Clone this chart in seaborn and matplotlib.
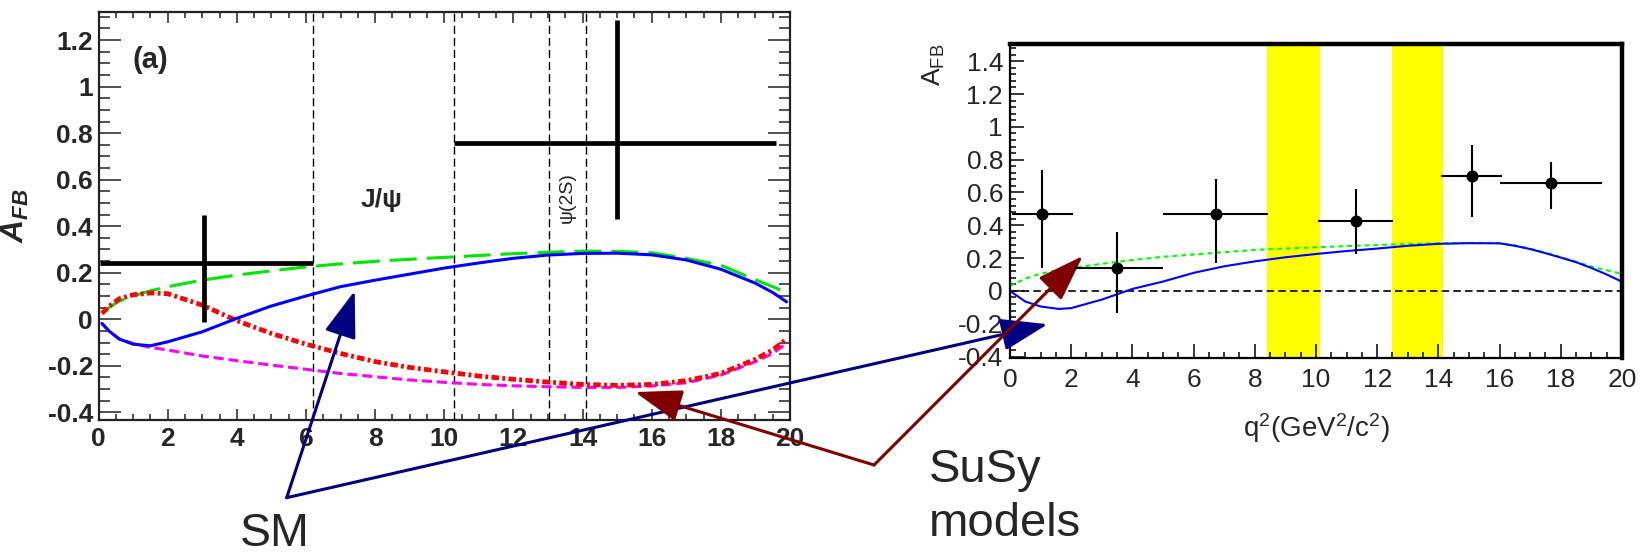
import matplotlib
matplotlib.use('Agg')
import matplotlib.pyplot as plt
from matplotlib.ticker import MultipleLocator, FuncFormatter
import seaborn as sns

# ---- left panel (a): theory curves, A_FB vs q^2 ----
q_left = [0.1, 0.3, 0.6, 1, 1.5, 2, 3, 4, 5, 6, 7, 8, 9, 10, 11, 12, 13, 14,
          15, 16, 17, 18, 19, 19.5, 19.9]
sm_left = [-0.018, -0.05, -0.085, -0.107, -0.114, -0.097, -0.054, 0.004, 0.057,
           0.1, 0.14, 0.168, 0.194, 0.22, 0.242, 0.262, 0.276, 0.283, 0.284,
           0.277, 0.255, 0.215, 0.155, 0.115, 0.075]
green_left = [0.025, 0.05, 0.078, 0.1, 0.122, 0.14, 0.168, 0.19, 0.208, 0.225,
              0.238, 0.249, 0.258, 0.266, 0.274, 0.282, 0.288, 0.293, 0.292,
              0.286, 0.262, 0.232, 0.17, 0.14, 0.115]
red_left = [0.025, 0.055, 0.088, 0.105, 0.113, 0.11, 0.061, -0.006, -0.061,
            -0.107, -0.147, -0.182, -0.207, -0.226, -0.244, -0.258, -0.27,
            -0.28, -0.284, -0.28, -0.264, -0.233, -0.172, -0.132, -0.085]
magenta_left = [-0.018, -0.05, -0.085, -0.105, -0.121, -0.132, -0.158, -0.178,
                -0.197, -0.215, -0.233, -0.247, -0.261, -0.271, -0.28, -0.286,
                -0.29, -0.293, -0.293, -0.287, -0.273, -0.24, -0.182, -0.147,
                -0.104]

# measured bins (thick crosses)
cross_q = [3.05, 15.0]
cross_a = [0.240, 0.758]
cross_qlo = [0.05, 10.28]
cross_qhi = [6.21, 19.6]
cross_alo = [-0.011, 0.429]
cross_ahi = [0.448, 1.286]
veto_lines = [6.21, 10.28, 13.02, 14.09]

# ---- right panel: data points and curves ----
q_right = [0, 0.5, 1, 1.6, 2, 3, 4, 5, 6, 7, 8, 9, 10, 11, 12, 13, 14, 15, 16,
           16.5, 17, 17.5, 18, 18.5, 19, 19.5, 20]
sm_right = [0.0, -0.065, -0.095, -0.11, -0.105, -0.053, 0.012, 0.057, 0.11,
            0.15, 0.18, 0.205, 0.225, 0.243, 0.258, 0.275, 0.287, 0.291, 0.29,
            0.275, 0.255, 0.23, 0.203, 0.175, 0.14, 0.1, 0.056]
green_right = [0.03, 0.075, 0.105, 0.127, 0.14, 0.165, 0.188, 0.208, 0.222,
               0.236, 0.25, 0.258, 0.266, 0.273, 0.28, 0.286, 0.29, 0.292,
               0.291, 0.277, 0.257, 0.233, 0.206, 0.179, 0.148, 0.126, 0.104]

pt_q = [1.04, 3.51, 6.73, 11.3, 15.09, 17.67]
pt_a = [0.471, 0.138, 0.471, 0.429, 0.701, 0.66]
pt_qlo = [0.05, 2.1, 5.0, 10.07, 14.1, 16.0]
pt_qhi = [2.05, 5.0, 8.43, 12.52, 16.07, 19.36]
pt_alo = [0.14, -0.136, 0.169, 0.226, 0.453, 0.498]
pt_ahi = [0.734, 0.358, 0.681, 0.62, 0.89, 0.787]
veto_bands = [(8.41, 10.13), (12.49, 14.16)]

sns.set_theme(style='ticks')
plt.rcParams['font.family'] = ['Liberation Sans', 'DejaVu Sans']
plt.rcParams['axes.unicode_minus'] = False
plt.rcParams['mathtext.fontset'] = 'custom'
plt.rcParams['mathtext.rm'] = 'Liberation Sans'
plt.rcParams['mathtext.it'] = 'Liberation Sans:italic:bold'
plt.rcParams['mathtext.bf'] = 'Liberation Sans:bold'

fmt = FuncFormatter(lambda v, p: f'{round(v, 6) + 0:g}')

fig = plt.figure(figsize=(16.42, 5.53), dpi=100)
ax1 = fig.add_axes([0.05999, 0.24051, 0.42113, 0.73834])
ax2 = fig.add_axes([0.61510, 0.35262, 0.37272, 0.56781])

# left panel
for v in veto_lines:
    ax1.axvline(v, color='black', lw=1.0, ls=(0, (5.8, 2.9)), zorder=1)

sns.lineplot(x=q_left, y=green_left, ax=ax1, color='#00e600', lw=2.2,
             linestyle=(0, (8.8, 3.3)))
sns.lineplot(x=q_left, y=magenta_left, ax=ax1, color='#ff00ff', lw=2.2,
             linestyle=(0, (3.3, 1.6)))
sns.lineplot(x=q_left, y=red_left, ax=ax1, color='#ff0000', lw=3.4,
             linestyle=(0, (1.6, 0.7, 0.6, 0.7)))
sns.lineplot(x=q_left, y=sm_left, ax=ax1, color='#0000ff', lw=2.2)

ax1.errorbar(cross_q, cross_a,
             xerr=[[q - lo for q, lo in zip(cross_q, cross_qlo)],
                   [hi - q for q, hi in zip(cross_q, cross_qhi)]],
             yerr=[[a - lo for a, lo in zip(cross_a, cross_alo)],
                   [hi - a for a, hi in zip(cross_a, cross_ahi)]],
             fmt='none', ecolor='black', elinewidth=3.4, capsize=0, zorder=4)

ax1.text(1.51, 1.113, '(a)', fontsize=21, fontweight='bold', ha='center', va='center')
ax1.text(8.19, 0.512, 'J/ψ', fontsize=19, fontweight='bold', ha='center', va='center')
ax1.text(13.56, 0.523, 'ψ(2S)', fontsize=14, rotation=90, color='#222222',
         ha='center', va='center')

ax1.set_xlim(0, 20)
ax1.set_ylim(-0.433, 1.322)
ax1.xaxis.set_major_locator(MultipleLocator(2))
ax1.xaxis.set_minor_locator(MultipleLocator(0.5))
ax1.yaxis.set_major_locator(MultipleLocator(0.2))
ax1.yaxis.set_minor_locator(MultipleLocator(0.05))
ax1.xaxis.set_major_formatter(fmt)
ax1.yaxis.set_major_formatter(fmt)
ax1.tick_params(axis='both', which='both', direction='in', top=True, right=True,
                color='#222222', width=1.1, labelsize=19)
ax1.tick_params(axis='x', which='major', length=8, pad=5)
ax1.tick_params(axis='x', which='minor', length=4)
ax1.tick_params(axis='y', which='major', length=16, pad=4)
ax1.tick_params(axis='y', which='minor', length=8)
for lab in ax1.get_xticklabels() + ax1.get_yticklabels():
    lab.set_fontweight('bold')
for s in ax1.spines.values():
    s.set_linewidth(1.6)
    s.set_color('#222222')
ax1.set_ylabel(r'$A_{FB}$', fontsize=23)
ax1.yaxis.set_label_coords(-0.097, 0.5)

# right panel
for lo, hi in veto_bands:
    ax2.axvspan(lo, hi, color='#ffff00', lw=0, zorder=0)
ax2.axhline(0, color='black', lw=1.2, ls=(0, (4.5, 2.5)), zorder=1)
sns.lineplot(x=q_right, y=green_right, ax=ax2, color='#00ff00', lw=1.5,
             linestyle=(0, (2.3, 1.9)), zorder=2)
sns.lineplot(x=q_right, y=sm_right, ax=ax2, color='#0000ff', lw=1.5, zorder=2)
ax2.errorbar(pt_q, pt_a,
             xerr=[[q - lo for q, lo in zip(pt_q, pt_qlo)],
                   [hi - q for q, hi in zip(pt_q, pt_qhi)]],
             yerr=[[a - lo for a, lo in zip(pt_a, pt_alo)],
                   [hi - a for a, hi in zip(pt_a, pt_ahi)]],
             fmt='none', ecolor='black', elinewidth=1.5, capsize=0, zorder=4)
sns.scatterplot(x=pt_q, y=pt_a, ax=ax2, color='black', s=75, linewidth=0, zorder=5)

ax2.set_xlim(0, 20)
ax2.set_ylim(-0.409, 1.505)
ax2.xaxis.set_major_locator(MultipleLocator(2))
ax2.xaxis.set_minor_locator(MultipleLocator(0.5))
ax2.yaxis.set_major_locator(MultipleLocator(0.2))
ax2.yaxis.set_minor_locator(MultipleLocator(0.04))
ax2.xaxis.set_major_formatter(fmt)
ax2.yaxis.set_major_formatter(fmt)
ax2.tick_params(axis='both', which='both', direction='in', color='black', width=1.1,
                labelsize=19)
ax2.tick_params(axis='both', which='major', length=10)
ax2.tick_params(axis='both', which='minor', length=4.5)
ax2.tick_params(axis='x', which='major', pad=7)
ax2.tick_params(axis='y', which='major', pad=5)
ax2.spines['top'].set_linewidth(3.2)
ax2.spines['right'].set_linewidth(3.2)
ax2.spines['left'].set_linewidth(1.6)
ax2.spines['bottom'].set_linewidth(1.6)
for s in ax2.spines.values():
    s.set_color('black')
ax2.set_xlabel(r'$\mathrm{q^{2}(GeV^{2}/c^{2})}$', fontsize=20, labelpad=14)
ax2.set_ylabel(r'$\mathrm{A}_{\mathrm{FB}}$', fontsize=19, loc='top')
ax2.yaxis.set_label_coords(-0.103, 1.0)

# annotation arrows: SM (navy) and SuSy (dark red)
head = '-|>,head_length=2.9,head_width=1.0'
sm_vertex = (0.1746, 0.1000)
susy_vertex = (0.5323, 0.1591)
for ax_t, xy in [(ax1, (7.41, 0.122)), (ax2, (1.23, -0.203))]:
    ax2.annotate('', xy=xy, xycoords=ax_t.transData, xytext=sm_vertex,
                 textcoords='figure fraction', annotation_clip=False,
                 arrowprops=dict(arrowstyle=head, mutation_scale=10, color='#000080',
                                 lw=2.2, shrinkA=0, shrinkB=0))
for ax_t, xy in [(ax1, (15.52, -0.313)), (ax2, (2.38, 0.213))]:
    ax2.annotate('', xy=xy, xycoords=ax_t.transData, xytext=susy_vertex,
                 textcoords='figure fraction', annotation_clip=False,
                 arrowprops=dict(arrowstyle=head, mutation_scale=10, color='#800000',
                                 lw=2.2, shrinkA=0, shrinkB=0))

fig.text(0.1462, 0.013, 'SM', fontsize=33.5, ha='left', va='baseline')
fig.text(0.5658, 0.1289, 'SuSy', fontsize=34, ha='left', va='baseline')
fig.text(0.5658, 0.0307, 'models', fontsize=34, ha='left', va='baseline')

fig.savefig('out.png', dpi=100, facecolor='white')
